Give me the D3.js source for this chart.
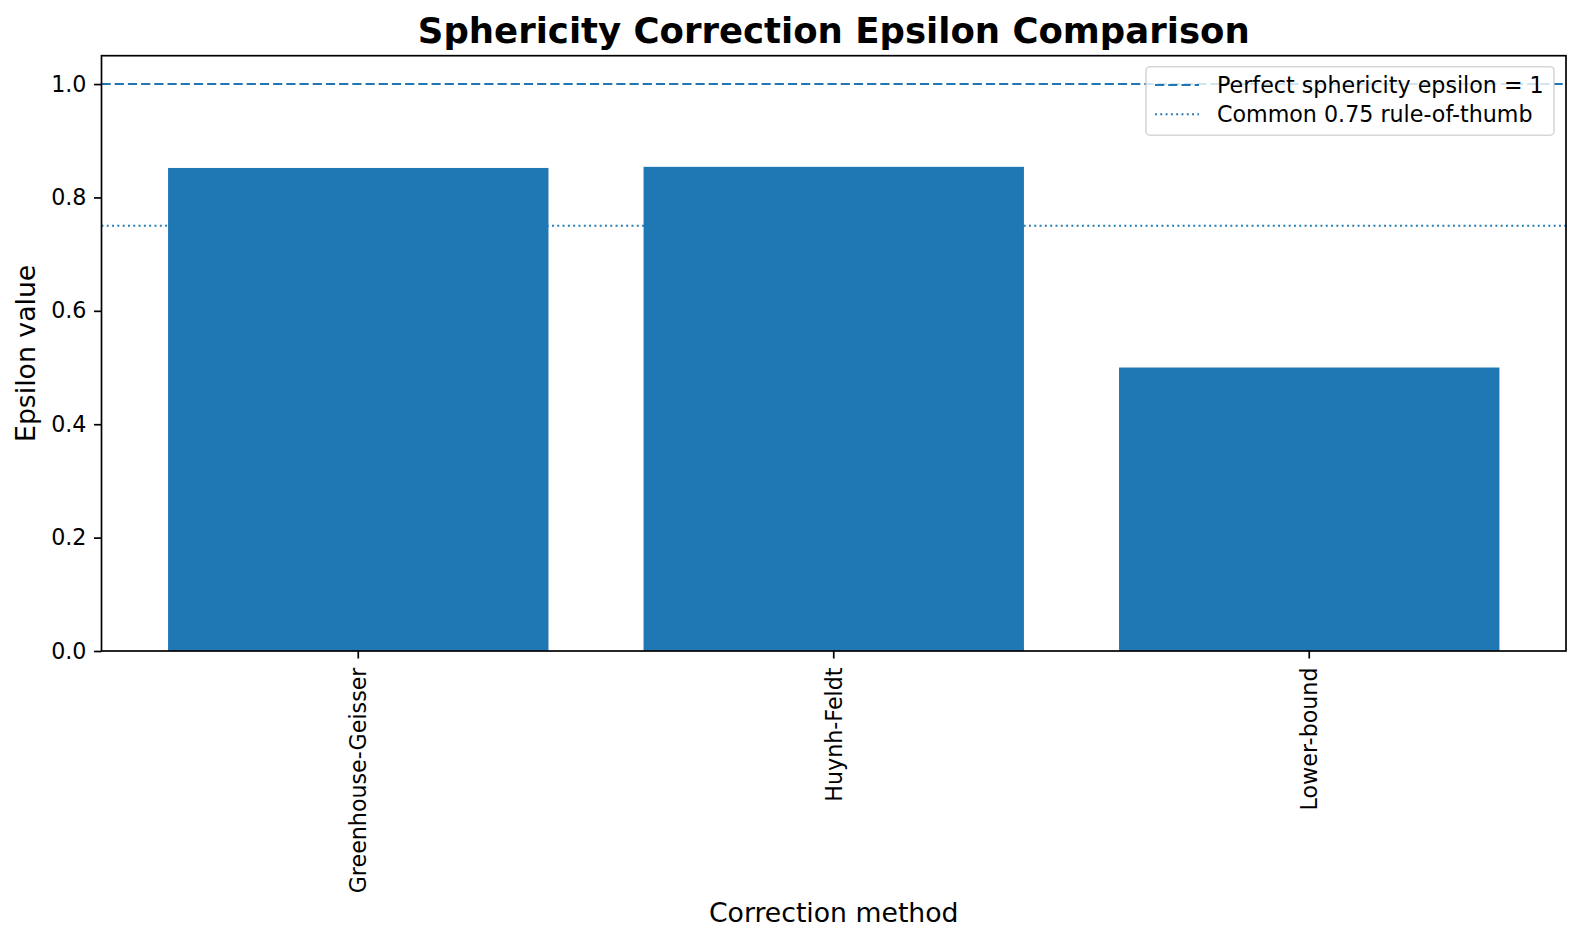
<!DOCTYPE html>
<html>
<head>
<meta charset="utf-8">
<script src="https://cdn.jsdelivr.net/npm/d3@7"></script>
<style>
  html, body { margin: 0; padding: 0; background: #ffffff; }
  svg { display: block; font-family: "DejaVu Sans", sans-serif; }
</style>
</head>
<body>
<svg id="chart" width="1581" height="944"></svg>
<script>
// ---- data ----
const categories = ["Greenhouse-Geisser", "Huynh-Feldt", "Lower-bound"];
const epsilonValues = [0.852, 0.854, 0.5];
const yTickValues = [0.0, 0.2, 0.4, 0.6, 0.8, 1.0];
const refValues = [1.0, 0.75];
const refLabels = ["Perfect sphericity epsilon = 1", "Common 0.75 rule-of-thumb"];
const titleText = "Sphericity Correction Epsilon Comparison";
const xLabelText = "Correction method";
const yLabelText = "Epsilon value";

(function () {
// ---- layout ----
const pL = 101.5, pR = 1566, pT = 55.7, pB = 651;
const blue = "#1f77b4";
const tickLen = 7.5, tickPad = 7.5;
const fsTick = 22.2, fsLabel = 26.7, fsTitle = 35.5;

const svg = d3.select("#chart");

const x = d3.scaleBand().domain(categories).range([pL, pR])
  .paddingInner(0.2).paddingOuter(0.14);
const y = d3.scaleLinear().domain([0, 1.05]).range([pB, pT]);

const refStyles = [
  { dash: "9.2,4", width: 1.9 },
  { dash: "1.9,3.4", width: 1.9 }
];

// reference lines (behind bars)
svg.append("g").selectAll("line").data(refValues).join("line")
  .attr("x1", pL).attr("x2", pR)
  .attr("y1", d => y(d)).attr("y2", d => y(d))
  .attr("stroke", blue)
  .attr("stroke-width", (d, i) => refStyles[i].width)
  .attr("stroke-dasharray", (d, i) => refStyles[i].dash);

// bars
svg.append("g").selectAll("rect").data(categories).join("rect")
  .attr("x", d => x(d))
  .attr("width", x.bandwidth())
  .attr("y", (d, i) => y(epsilonValues[i]))
  .attr("height", (d, i) => y(0) - y(epsilonValues[i]))
  .attr("fill", blue);

// y axis
const yAxis = svg.append("g").attr("transform", `translate(${pL},0)`)
  .call(d3.axisLeft(y).tickValues(yTickValues).tickFormat(d3.format(".1f"))
    .tickSize(tickLen).tickPadding(tickPad));
yAxis.select(".domain").remove();
yAxis.selectAll(".tick line").attr("stroke", "#000").attr("stroke-width", 1.7);
yAxis.selectAll(".tick text").attr("font-size", fsTick).attr("fill", "#000")
  .attr("font-family", "DejaVu Sans");

// x axis
const xAxis = svg.append("g").attr("transform", `translate(0,${pB})`)
  .call(d3.axisBottom(x).tickSize(tickLen).tickPadding(tickPad));
xAxis.select(".domain").remove();
xAxis.selectAll(".tick line").attr("stroke", "#000").attr("stroke-width", 1.7);
xAxis.selectAll(".tick text")
  .attr("font-size", fsTick).attr("fill", "#000").attr("font-family", "DejaVu Sans")
  .attr("text-anchor", "end")
  .attr("transform", `translate(0,${tickLen + tickPad + 1.5}) rotate(-90)`)
  .attr("x", 0).attr("y", 0).attr("dy", "0.35em");

// spines
svg.append("rect").attr("x", pL).attr("y", pT)
  .attr("width", pR - pL).attr("height", pB - pT)
  .attr("fill", "none").attr("stroke", "#000").attr("stroke-width", 1.7);

// title
svg.append("text").attr("x", (pL + pR) / 2).attr("y", 43)
  .attr("text-anchor", "middle").attr("font-size", fsTitle).attr("font-weight", "bold")
  .text(titleText);

// axis labels
svg.append("text").attr("x", (pL + pR) / 2).attr("y", 922)
  .attr("text-anchor", "middle").attr("font-size", fsLabel).text(xLabelText);
svg.append("text")
  .attr("transform", `translate(35,${(pT + pB) / 2}) rotate(-90)`)
  .attr("text-anchor", "middle").attr("font-size", fsLabel).text(yLabelText);

// legend
const lg = svg.append("g");
const lgX = 1146, lgY = 66.7, lgW = 408, lgH = 68.5;
lg.append("rect").attr("x", lgX).attr("y", lgY).attr("width", lgW).attr("height", lgH)
  .attr("rx", 4).attr("ry", 4)
  .attr("fill", "#ffffff").attr("fill-opacity", 0.8)
  .attr("stroke", "#cccccc").attr("stroke-opacity", 0.8).attr("stroke-width", 1.6);
const rowY = [85, 114.3];
const items = lg.selectAll("g.item").data(refLabels).join("g").attr("class", "item");
items.append("line")
  .attr("x1", 1155).attr("x2", 1199)
  .attr("y1", (d, i) => rowY[i]).attr("y2", (d, i) => rowY[i])
  .attr("stroke", blue)
  .attr("stroke-width", (d, i) => refStyles[i].width)
  .attr("stroke-dasharray", (d, i) => refStyles[i].dash);
items.append("text")
  .attr("x", 1217).attr("y", (d, i) => rowY[i] + 7.9)
  .attr("font-size", fsTick).attr("fill", "#000")
  .text(d => d);
})();
</script>
</body>
</html>
